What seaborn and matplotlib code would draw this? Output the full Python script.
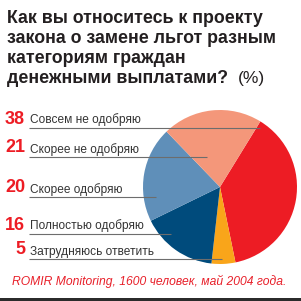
import matplotlib
matplotlib.use("Agg")
import matplotlib.pyplot as plt
import seaborn as sns
import numpy as np

# ---- data ----
categories = ["Совсем не одобряю", "Скорее не одобряю", "Скорее одобряю",
              "Полностью одобряю", "Затрудняюсь ответить"]
values = [38, 21, 20, 16, 5]
# pie order (clockwise from the red slice)
pie_order = ["Совсем не одобряю", "Затрудняюсь ответить", "Полностью одобряю",
             "Скорее одобряю", "Скорее не одобряю"]
colors = {"Совсем не одобряю": "#ED1C24", "Затрудняюсь ответить": "#F9A51A",
          "Полностью одобряю": "#004B7C", "Скорее одобряю": "#5F8FB9",
          "Скорее не одобряю": "#F4977A"}
title_lines = ["Как вы относитесь к проекту", "закона о замене льгот разным",
               "категориям граждан", "денежными выплатами?"]
unit = "(%)"
source = "ROMIR Monitoring, 1600 человек, май 2004 года."

sns.set_theme(style="white")
plt.rcParams['font.family'] = ['Liberation Sans', 'DejaVu Sans']

W = H = 301
fig = plt.figure(figsize=(W / 100, H / 100), dpi=100)
fig.patch.set_facecolor("white")

# pie axes
cx, cy, r = 220, 187, 77
pax = fig.add_axes([(cx - r) / W, (H - cy - r) / H, 2 * r / W, 2 * r / H])
vals = [values[categories.index(c)] for c in pie_order]
wedges, _ = pax.pie(vals, colors=[colors[c] for c in pie_order], startangle=58.4,
                    counterclock=False, radius=1.0,
                    wedgeprops=dict(linewidth=0))
pax.set_xlim(-1, 1)
pax.set_ylim(-1, 1)
pax.set_aspect("equal")
pax.axis("off")

# overlay axes in pixel coordinates
ov = fig.add_axes([0, 0, 1, 1], facecolor="none")
ov.set_xlim(0, W)
ov.set_ylim(H, 0)
ov.axis("off")

# title
for i, line in enumerate(title_lines):
    ov.text(7, 23 + 20 * i, line, ha="left", va="baseline", fontsize=12.8,
            fontweight="bold", color="#231F20")
ov.text(238, 83, unit, ha="left", va="baseline", fontsize=12.5, color="#231F20")

# labels + leader lines
row_y = [128, 157, 197, 234, 259]
line_end = [260, 207, 156, 171, 222]
for cat, v, y, xe in zip(categories, values, row_y, line_end):
    ov.text(25, y - 4.5, str(v), ha="right", va="baseline", fontsize=13,
            fontweight="bold", color="#ED1C24")
    ov.text(30, y - 4.5, cat, ha="left", va="baseline", fontsize=8.6,
            color="#333333")
    ov.plot([29, xe], [y, y], color="#6d6d6d", lw=0.8, solid_capstyle="butt")

# source
ov.text(149.5, 285, source, ha="center", va="baseline", fontsize=8.75,
        style="italic", color="#E8202A")

# bottom bar
ov.add_patch(plt.Rectangle((0, 297.5), W, 4, color="#2b2b2b", lw=0))

fig.savefig("out.png", dpi=100)
